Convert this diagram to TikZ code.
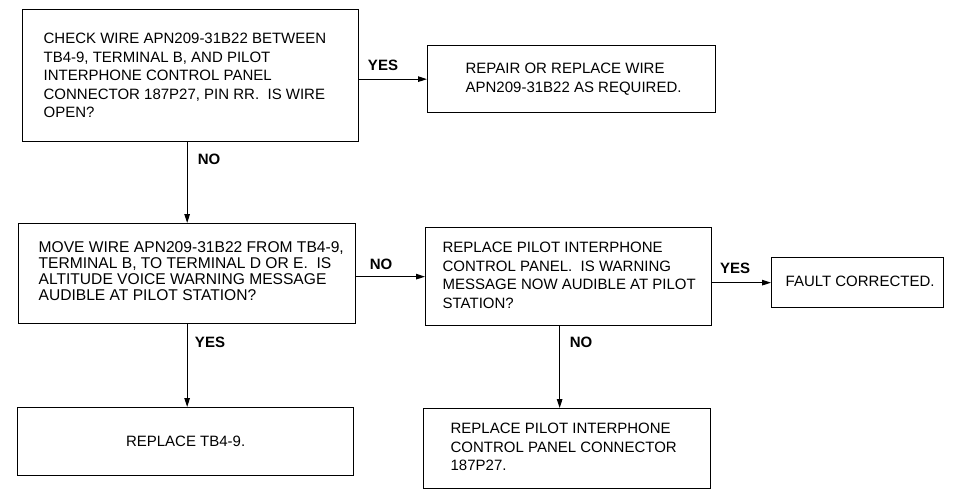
\documentclass[tikz,border=0pt]{standalone}
\usepackage{fontspec}
\setmainfont{Liberation Sans}
\usetikzlibrary{arrows.meta}
\newcommand\flowtext[3]{\makebox[#2][l]{\hspace*{#1}\begin{tabular}{@{}l@{}}#3\end{tabular}}}
\tikzset{
  flowbox/.style={draw, line width=1.3pt, inner sep=0pt, anchor=north west,
    font=\fontsize{15}{18.5}\selectfont},
  flowarrow/.style={line width=1.1pt, -{Triangle[length=9pt,width=5.5pt]}},
  flowlabel/.style={font=\fontsize{15}{18}\selectfont\bfseries, inner sep=0pt},
}
\begin{document}
\begin{tikzpicture}[x=1pt,y=-1pt]
\useasboundingbox (0,0) rectangle (955,490);
\node[flowbox, minimum width=336pt, minimum height=132pt] (b1) at (22,9)
  {\flowtext{21pt}{336pt}{\rule{0pt}{16pt}CHECK WIRE APN209-31B22 BETWEEN\\TB4-9, TERMINAL B, AND PILOT\\INTERPHONE CONTROL PANEL\\CONNECTOR 187P27, PIN RR.~~IS WIRE\\OPEN?}};
\node[flowbox, minimum width=288pt, minimum height=67pt] (b2) at (427,45)
  {\flowtext{38pt}{288pt}{REPAIR OR REPLACE WIRE\\APN209-31B22 AS REQUIRED.}};
\node[flowbox, minimum width=337pt, minimum height=100pt, font=\fontsize{15.6}{16}\selectfont] (b3) at (18,223)
  {\flowtext{20pt}{337pt}{MOVE WIRE APN209-31B22 FROM TB4-9,\\TERMINAL B, TO TERMINAL D OR E.~~IS\\ALTITUDE VOICE WARNING MESSAGE\\AUDIBLE AT PILOT STATION?}};
\node[flowbox, minimum width=286pt, minimum height=98pt] (b4) at (425,227)
  {\flowtext{17pt}{286pt}{REPLACE PILOT INTERPHONE\\CONTROL PANEL.~~IS WARNING\\MESSAGE NOW AUDIBLE AT PILOT\\STATION?}};
\node[flowbox, minimum width=172pt, minimum height=50pt] (b5) at (771,257)
  {\flowtext{14pt}{172pt}{FAULT CORRECTED.}};
\node[flowbox, minimum width=336pt, minimum height=68pt] (b6) at (17,407)
  {REPLACE TB4-9.};
\node[flowbox, minimum width=287pt, minimum height=80pt] (b7) at (423,408)
  {\flowtext{27pt}{287pt}{REPLACE PILOT INTERPHONE\\CONTROL PANEL CONNECTOR\\187P27.}};

\draw[flowarrow] (b2.west -| b1.east) -- (b2.west);
\draw[flowarrow] (b3.north |- b1.south) -- (b3.north);
\draw[flowarrow] (b4.west -| b3.east) -- (b4.west);
\draw[flowarrow] (b3.south) -- (b3.south |- b6.north);
\draw[flowarrow] (b5.west -| b4.east) -- (b5.west);
\draw[flowarrow] ([xshift=-9pt]b4.south) -- ([xshift=-9pt]b4.south |- b7.north);

\node[flowlabel] (l1) at (383,65) {YES};
\node[flowlabel] (l2) at (209,159) {NO};
\node[flowlabel] (l3) at (381,264) {NO};
\node[flowlabel] (l4) at (210,342) {YES};
\node[flowlabel] (l5) at (735,268) {YES};
\node[flowlabel] (l6) at (581,342) {NO};
\end{tikzpicture}
\end{document}
